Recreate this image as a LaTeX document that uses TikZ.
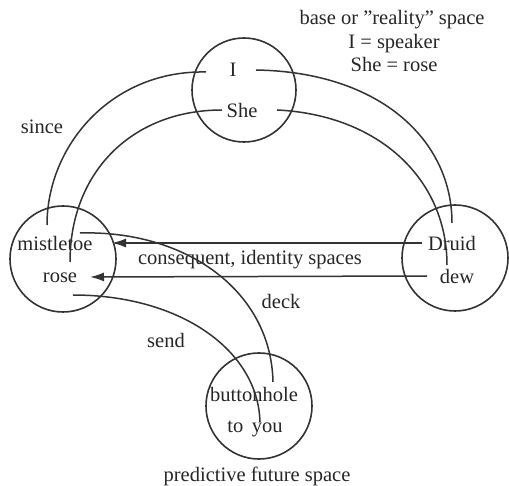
\documentclass[tikz,border=0pt]{standalone}
\usepackage{fontspec}
\setmainfont{Liberation Serif}
\usetikzlibrary{arrows.meta}
\begin{document}
\begin{tikzpicture}[x=1pt,y=-1pt,
  every node/.style={font=\fontsize{20.5}{23}\selectfont, inner sep=0pt, text=black!85},
  space/.style={draw=black!80, circle, line width=1.6pt, minimum size=#1},
  link/.style={line width=1.5pt, draw=black!80},
  arr/.style={link, -{Latex[length=14pt,width=9pt]}}]
\useasboundingbox (0,0) rectangle (509,486);
% mental spaces
\node[space=104pt] (base) at (244,90) {};
\node[space=106pt] (left) at (63,259) {};
\node[space=106pt] (right) at (455,258) {};
\node[space=106pt] (future) at (259,406) {};
% labels inside spaces
\node (I) at (233,70) {I};
\node (She) at (242,110) {She};
\node (mist) at (55,243) {mistletoe};
\node (rose) at (60,278) {rose};
\node (druid) at (452,243) {Druid};
\node (dew) at (457,276) {dew};
\node (button) at (254,394) {buttonhole};
\node (you) at (255,429) {to\ \,you};
% captions
\node (cap1) at (392,20) {base or \symbol{34}reality\symbol{34} space};
\node (cap2) at (394,44) {I = speaker};
\node (cap3) at (394,64) {She = rose};
\node (since) at (42,127) {since};
\node (cons) at (250,260) {consequent, identity spaces};
\node (deck) at (281,301) {deck};
\node (send) at (166,340) {send};
\node (pred) at (257,476) {predictive future space};
% end points of connectors
\coordinate (Iw) at (206,72);
\coordinate (Ie) at (256,70);
\coordinate (Shew) at (222,110);
\coordinate (Shee) at (277,110);
\coordinate (mistN) at (47,225);
\coordinate (roseN) at (70,262);
\coordinate (druidN) at (452,223);
\coordinate (dewN) at (447,265);
\coordinate (druidW) at (422,243);
\coordinate (dewW) at (427,276);
\coordinate (mistE) at (112,243);
\coordinate (roseE) at (90,277);
\coordinate (mistNE) at (80,233);
\coordinate (roseS) at (73,295);
\coordinate (buttonN) at (273,382);
\coordinate (youN) at (260,422);
% cross-space connectors
\draw[link] (Iw) .. controls (112,70) and (47,145) .. (mistN);
\draw[link] (Ie) .. controls (380,72) and (452,140) .. (druidN);
\draw[link] (Shew) .. controls (132,110) and (70,172) .. (roseN);
\draw[link] (Shee) .. controls (380,115) and (447,180) .. (dewN);
\draw[arr] (druidW) -- (mistE);
\draw[arr] (dewW) -- (roseE);
\draw[link] (mistNE) .. controls (185,230) and (271,290) .. (buttonN);
\draw[link] (roseS) .. controls (180,295) and (258,350) .. (youN);
\end{tikzpicture}
\end{document}
